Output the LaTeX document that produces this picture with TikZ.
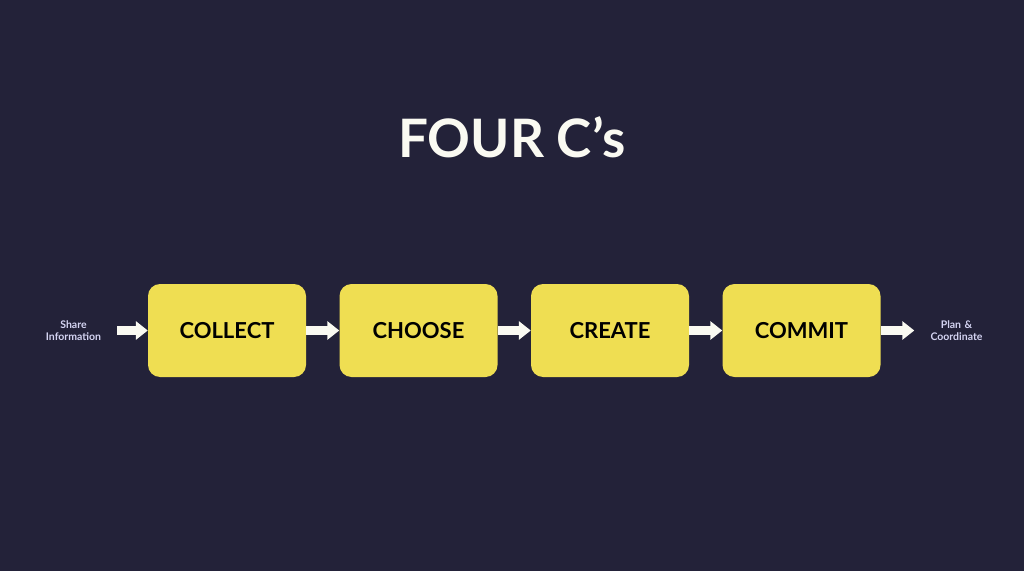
\documentclass[tikz,border=0pt]{standalone}
\usepackage{fontspec}
\setmainfont{Lato}
\usepackage{xcolor}
\usepackage{tikz}
\usetikzlibrary{arrows.meta,positioning}
\definecolor{night}{HTML}{232239}
\definecolor{lemon}{HTML}{EFDE52}
\definecolor{chalk}{HTML}{FAFAF2}
\definecolor{lilac}{HTML}{D4D4F2}

\begin{document}
\begin{tikzpicture}[x=1pt,y=1pt,node distance=191.5pt,
        stage/.style={rectangle,rounded corners=12pt,fill=lemon,minimum width=158pt,minimum height=93pt,font=\fontsize{22}{26}\selectfont\bfseries,text=black},
        side/.style={font=\fontsize{10.5}{12}\selectfont\bfseries,text=lilac,text width=60pt,align=center,inner ysep=0pt},
        flow/.style={-{Triangle[length=12pt 0,width=18pt 0,fill=chalk]},line width=9pt,color=chalk}]
                \fill[night] (0,0) rectangle (1024,571);
                \node[font=\fontsize{53}{60}\selectfont\bfseries,text=chalk,anchor=base] (title) at (512,413) {FOUR C’s};
                \node[stage] (collect) at (227,240.5) {COLLECT};
                \node[stage] (choose) [right of=collect] {CHOOSE};
                \node[stage] (create) [right of=choose] {CREATE};
                \node[stage] (commit) [right of=create] {COMMIT};
                \node[side,inner xsep=13.5pt] (share) [left of=collect,node distance=153.5pt] {Share\\Information};
                \node[side,inner xsep=12pt] (plan) [right of=commit,node distance=155pt] {Plan \&\\Coordinate};
                \path[flow]
                    (share) edge (collect)
                    (collect) edge (choose)
                    (choose) edge (create)
                    (create) edge (commit)
                    (commit) edge (plan);
            \end{tikzpicture}
\end{document}
